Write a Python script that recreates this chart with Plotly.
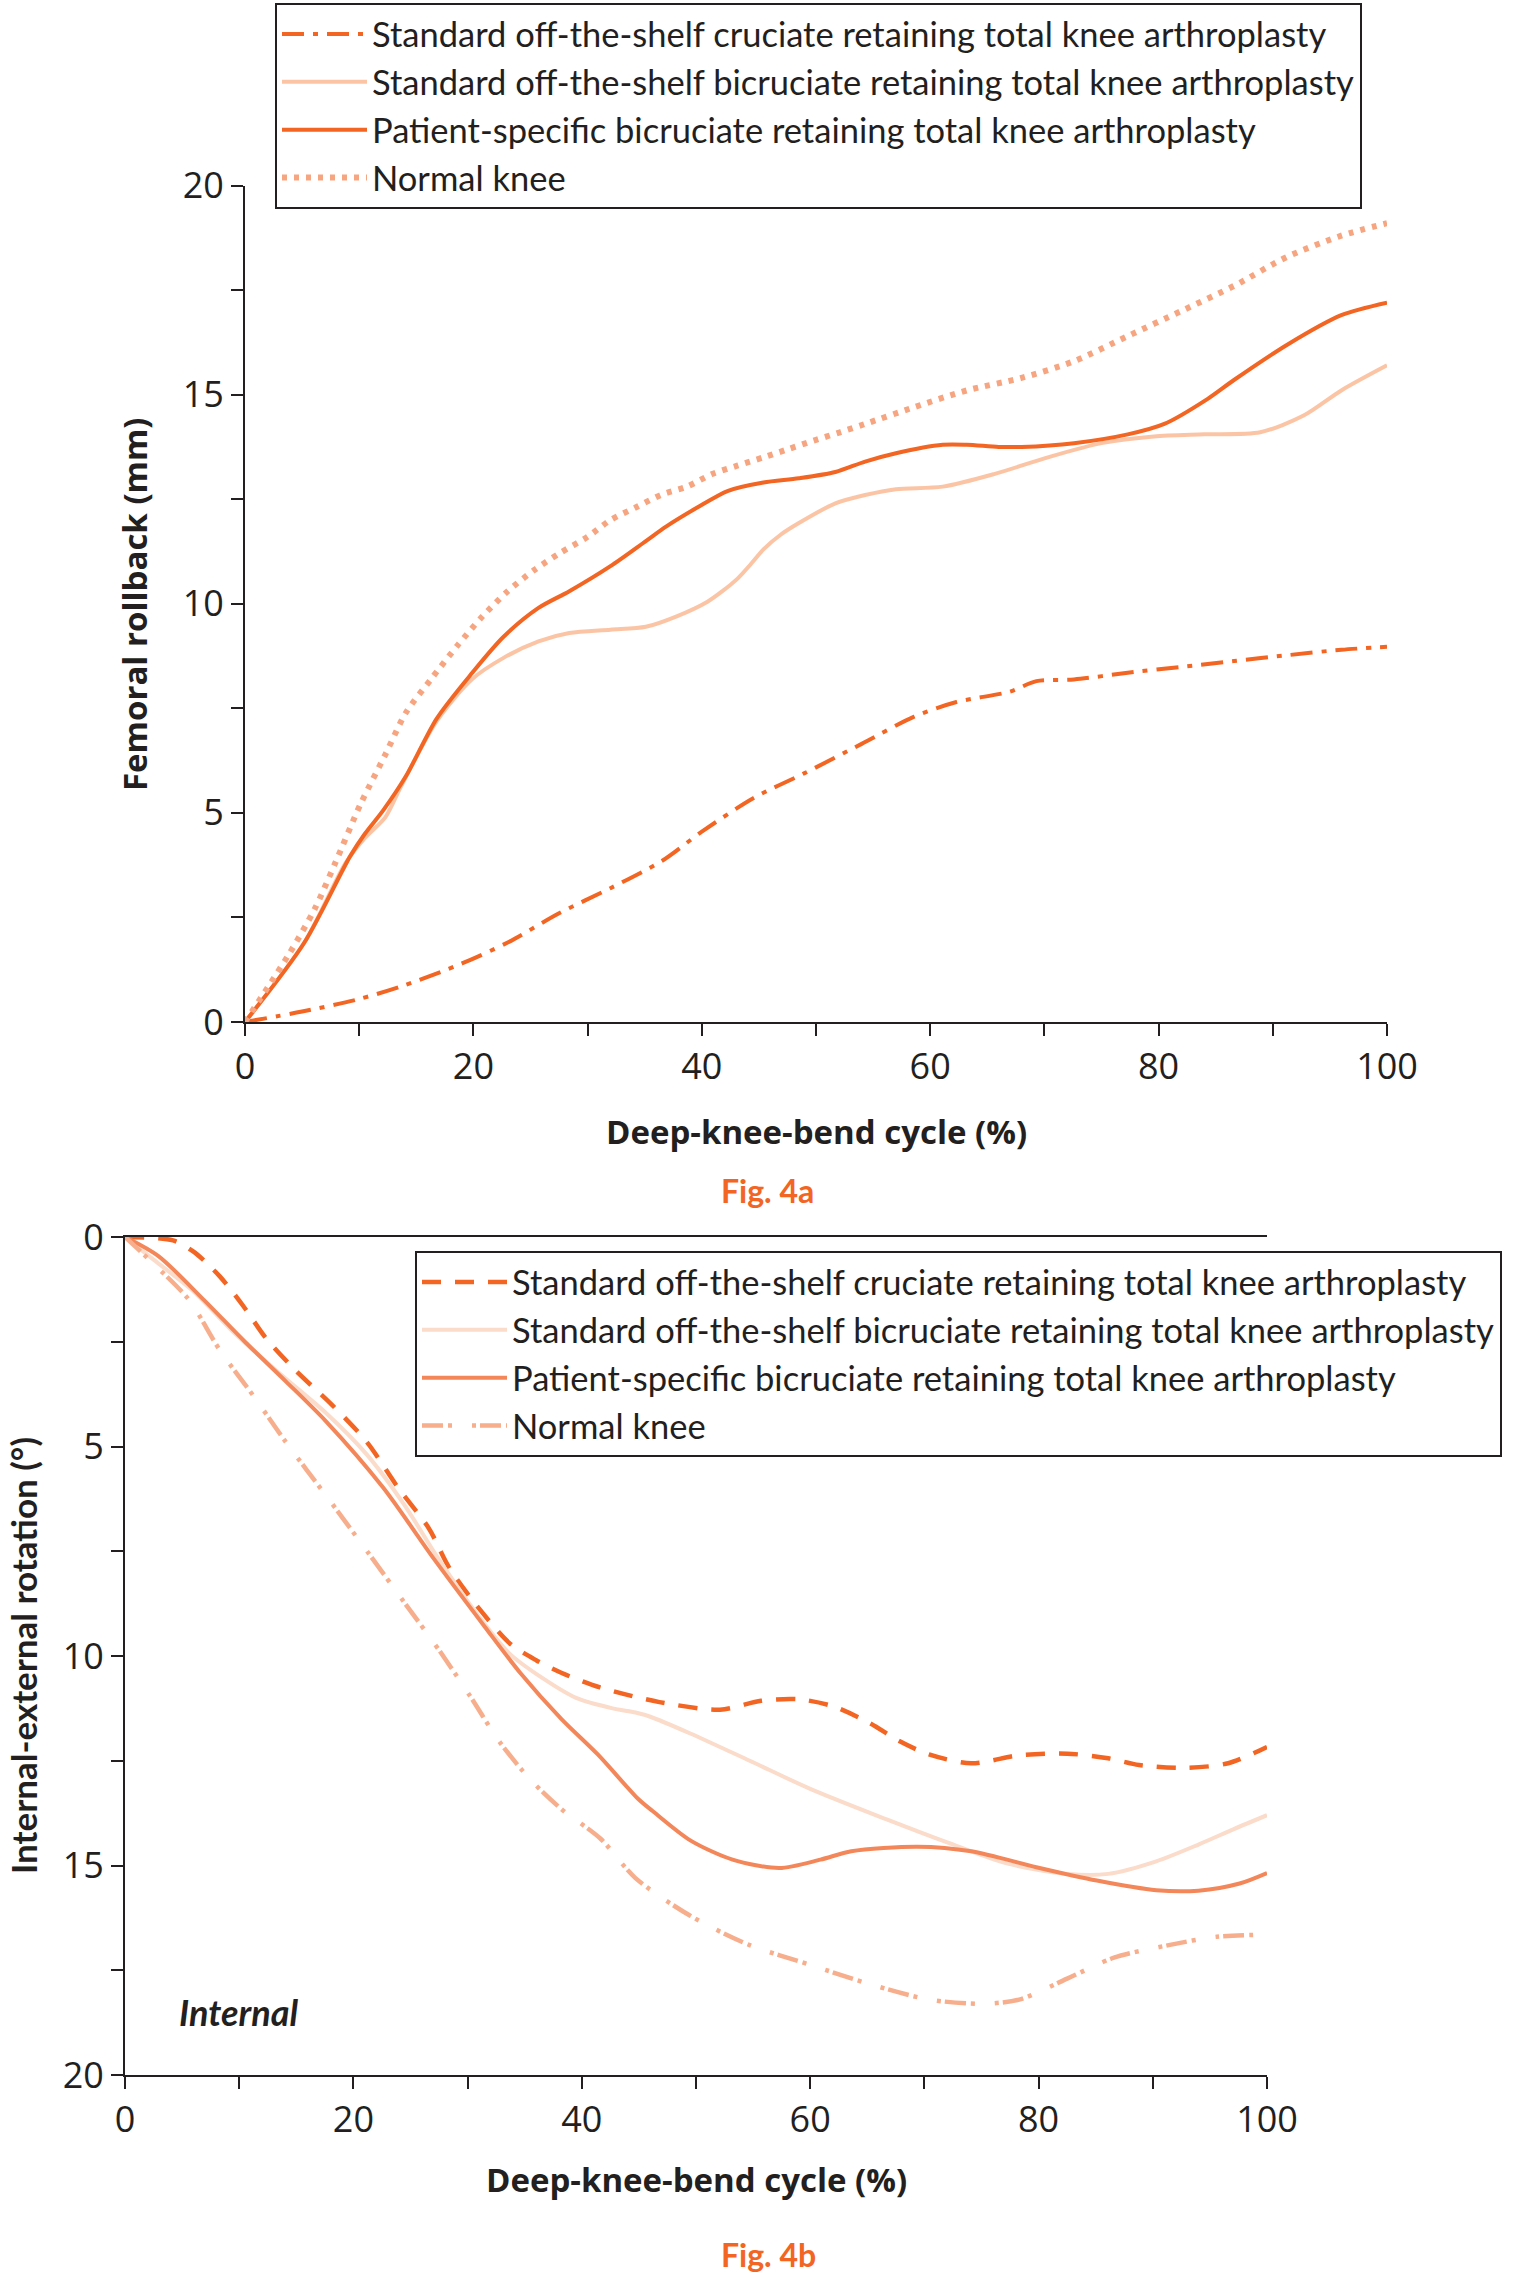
import plotly.graph_objects as go

W, H = 1538, 2274

# ---------------- Fig. 4a : femoral rollback (mm) ----------------
cr_a_x = [0, 5, 10, 14, 19, 23, 27.5, 32, 36.5, 40, 44.5, 49, 54, 58.6, 62.3, 67, 69.3, 72.6, 77.3, 82, 86.6, 91.3, 96, 100]
cr_a_y = [0, 0.25, 0.55, 0.88, 1.4, 1.9, 2.6, 3.2, 3.85, 4.55, 5.35, 5.95, 6.65, 7.3, 7.65, 7.9, 8.15, 8.19, 8.35, 8.49, 8.63, 8.77, 8.9, 8.97]

bcr_a_x = [0, 5.2, 8.8, 10.5, 12.3, 13.6, 16.8, 19.9, 22.6, 25.7, 28.4, 32, 35.1, 37.8, 40.5, 41.8, 43.2, 44.3, 45.4, 46.9, 48.5, 51.7, 54.3, 57, 61.1, 65.6, 70.3, 75, 79.6, 84, 88.9, 92.7, 96, 100]
bcr_a_y = [0, 1.9, 3.8, 4.4, 4.9, 5.6, 7.2, 8.2, 8.7, 9.1, 9.3, 9.38, 9.45, 9.7, 10.05, 10.3, 10.62, 10.95, 11.3, 11.65, 11.93, 12.4, 12.6, 12.74, 12.8, 13.1, 13.5, 13.84, 14.0, 14.05, 14.1, 14.5, 15.1, 15.7]

ps_a_x = [0, 5.2, 9.2, 10.5, 12.1, 14.1, 16.8, 19.9, 22.6, 25.7, 28.4, 32, 35.1, 36.9, 39.6, 42.3, 45.4, 48.5, 51.7, 54.3, 57, 61.1, 63.2, 66, 68, 72.6, 77.3, 80.5, 84.3, 86.6, 91.3, 96, 100]
ps_a_y = [0, 1.9, 3.96, 4.5, 5.06, 5.88, 7.26, 8.35, 9.2, 9.9, 10.3, 10.9, 11.5, 11.85, 12.3, 12.7, 12.9, 13.0, 13.15, 13.4, 13.6, 13.8, 13.8, 13.75, 13.75, 13.84, 14.05, 14.3, 14.9, 15.35, 16.2, 16.9, 17.2]

nk_a_x = [0, 3.8, 6.1, 7.9, 10.1, 12.3, 14.1, 16.3, 18.6, 20.8, 23, 25.3, 27.5, 30, 32, 34.2, 36.4, 38.7, 40.9, 43.1, 45.4, 47.6, 49.8, 52.1, 54.3, 58.6, 63.2, 68, 72.6, 77.3, 82, 86.6, 91.3, 96, 100]
nk_a_y = [0, 1.6, 2.7, 3.8, 5.2, 6.4, 7.4, 8.2, 9.0, 9.7, 10.3, 10.8, 11.2, 11.6, 12.0, 12.3, 12.6, 12.8, 13.1, 13.3, 13.5, 13.7, 13.9, 14.1, 14.3, 14.7, 15.1, 15.4, 15.8, 16.4, 17.0, 17.6, 18.3, 18.8, 19.1]

# ---------------- Fig. 4b : internal-external rotation (deg) ----------------
cr_b_x = [0, 4.2, 6, 8.3, 10.5, 12.3, 15, 18.1, 21.2, 23.9, 26.6, 28.4, 31.1, 33.7, 36, 38.2, 41.6, 46.8, 52.1, 55.7, 58.9, 62, 65.2, 67.8, 70.4, 74.1, 78.3, 82.5, 86.1, 88.8, 92.9, 96.6, 100]
cr_b_y = [0, 0.08, 0.35, 0.94, 1.7, 2.4, 3.2, 4.0, 4.9, 5.98, 6.95, 7.9, 8.9, 9.7, 10.1, 10.4, 10.75, 11.1, 11.28, 11.07, 11.03, 11.2, 11.6, 12.03, 12.35, 12.56, 12.37, 12.33, 12.44, 12.6, 12.67, 12.56, 12.17]

bcr_b_x = [0, 2.5, 6, 9.6, 13.6, 17.6, 21.2, 24.4, 27.5, 31.1, 33.7, 36.4, 39.5, 42.7, 44.7, 46, 49.5, 54.7, 60, 66.7, 72, 77.2, 82.5, 86.1, 90.3, 94, 97.1, 100]
bcr_b_y = [0, 0.54, 1.3, 2.3, 3.27, 4.2, 5.2, 6.37, 7.7, 9.1, 9.95, 10.5, 11.0, 11.25, 11.35, 11.45, 11.85, 12.5, 13.17, 13.9, 14.45, 14.95, 15.2, 15.2, 14.9, 14.5, 14.13, 13.8]

ps_b_x = [0, 2.9, 6.9, 10.5, 14.1, 17.6, 22.6, 27.1, 31.5, 34.6, 38.2, 41.4, 44.9, 46.2, 49.5, 53.2, 57.3, 60.9, 63.6, 69.4, 74.1, 79.8, 85.1, 90.3, 94, 97.6, 100]
ps_b_y = [0, 0.45, 1.5, 2.5, 3.45, 4.4, 5.98, 7.7, 9.3, 10.4, 11.5, 12.35, 13.4, 13.7, 14.4, 14.86, 15.06, 14.86, 14.66, 14.55, 14.66, 15.04, 15.36, 15.59, 15.6, 15.43, 15.18]

nk_b_x = [0, 2.5, 5.6, 8.3, 11.4, 14.1, 17.6, 21.2, 24.4, 27.5, 30.2, 32.8, 35.5, 38.2, 41.6, 44.7, 49.5, 54.7, 60, 65.2, 70.4, 75.1, 78.3, 82.5, 86.6, 91.4, 95.6, 100]
nk_b_y = [0, 0.64, 1.5, 2.7, 3.85, 4.9, 6.17, 7.5, 8.7, 9.86, 10.95, 12.05, 12.95, 13.65, 14.35, 15.3, 16.2, 16.9, 17.37, 17.83, 18.2, 18.3, 18.2, 17.7, 17.2, 16.9, 16.7, 16.65]

names = [
    "Standard off-the-shelf cruciate retaining total knee arthroplasty",
    "Standard off-the-shelf bicruciate retaining total knee arthroplasty",
    "Patient-specific bicruciate retaining total knee arthroplasty",
    "Normal knee",
]

x_ticks = [0, 20, 40, 60, 80, 100]
y_ticks = [0, 5, 10, 15, 20]

INK = "#231F20"
ORANGE = "#F26522"

fig = go.Figure()

def add(x, y, name, color, width, dash, xa, ya, legend, grp):
    fig.add_trace(go.Scatter(
        x=x, y=y, name=name, mode="lines",
        line=dict(color=color, width=width, dash=dash, shape="spline", smoothing=0.8),
        xaxis=xa, yaxis=ya, legend=legend, legendgroup=grp, hoverinfo="skip"))

add(cr_a_x, cr_a_y, names[0], ORANGE, 4, "22px,9px,5px,9px", "x", "y", "legend", "a1")
add(bcr_a_x, bcr_a_y, names[1], "#FBC5A5", 4, "solid", "x", "y", "legend", "a2")
add(ps_a_x, ps_a_y, names[2], ORANGE, 4, "solid", "x", "y", "legend", "a3")
add(nk_a_x, nk_a_y, names[3], "#F6A580", 6, "5px,7px", "x", "y", "legend", "a4")

add(cr_b_x, cr_b_y, names[0], ORANGE, 4.5, "19px,14px", "x2", "y2", "legend2", "b1")
add(bcr_b_x, bcr_b_y, names[1], "#FBDBC9", 4, "solid", "x2", "y2", "legend2", "b2")
add(ps_b_x, ps_b_y, names[2], "#F3875A", 4, "solid", "x2", "y2", "legend2", "b3")
add(nk_b_x, nk_b_y, names[3], "#F7AE8C", 4.5, "21px,5px,4px,20px,4px,4px", "x2", "y2", "legend2", "b4")

tickfont = dict(family="Open Sans", size=36, color=INK)

def xax(domain, anchor, mirror):
    return dict(domain=domain, anchor=anchor, range=[0, 100], tickvals=x_ticks,
                showline=True, linecolor=INK, linewidth=2, mirror=mirror,
                ticks="outside", ticklen=12, tickwidth=2, tickcolor=INK,
                minor=dict(dtick=10, tick0=0, ticks="outside", ticklen=12, tickwidth=2, tickcolor=INK, showgrid=False),
                showgrid=False, zeroline=False, tickfont=tickfont, fixedrange=True, automargin=False)

def yax(domain, anchor, rng):
    return dict(domain=domain, anchor=anchor, range=rng, tickvals=y_ticks,
                showline=True, linecolor=INK, linewidth=2,
                ticks="outside", ticklen=12, tickwidth=2, tickcolor=INK,
                minor=dict(dtick=2.5, tick0=0, ticks="outside", ticklen=12, tickwidth=2, tickcolor=INK, showgrid=False),
                showgrid=False, zeroline=False, tickfont=tickfont, fixedrange=True, automargin=False)

legfont = dict(family="Lato", size=34.5, color=INK)

fig.update_layout(
    width=W, height=H, margin=dict(l=0, r=0, t=0, b=0, autoexpand=False),
    paper_bgcolor="white", plot_bgcolor="white",
    xaxis=xax([245 / W, 1387 / W], "y", False),
    yaxis=yax([1 - 1022 / H, 1 - 185.5 / H], "x", [0, 20]),
    xaxis2=xax([125 / W, 1267 / W], "y2", True),
    yaxis2=yax([1 - 2075 / H, 1 - 1237 / H], "x2", [20, 0]),
    legend=dict(x=275 / W, y=1 - 3 / H, xanchor="left", yanchor="top",
                bordercolor=INK, borderwidth=2, bgcolor="white", font=legfont,
                traceorder="grouped", tracegroupgap=0, itemwidth=85),
    legend2=dict(x=415 / W, y=1 - 1251 / H, xanchor="left", yanchor="top",
                 bordercolor=INK, borderwidth=2, bgcolor="white", font=legfont,
                 traceorder="grouped", tracegroupgap=0, itemwidth=85),
    showlegend=True,
)

title_font = dict(family="Open Sans", size=33, color=INK, weight="bold")

def ann(text, x, y, font, angle=0, xanchor="center", yanchor="middle"):
    fig.add_annotation(text=text, x=x / W, y=1 - y / H, xref="paper", yref="paper",
                       showarrow=False, font=font, textangle=angle,
                       xanchor=xanchor, yanchor=yanchor)

ann("Deep-knee-bend cycle (%)", 816, 1131, title_font)
ann("Femoral rollback (mm)", 135, 604, title_font, angle=-90)
ann("Fig. 4a", 767, 1190, dict(family="Lato", size=32, color=ORANGE, weight="bold"))

ann("Deep-knee-bend cycle (%)", 696, 2179, title_font)
ann("Internal-external rotation (°)", 23, 1656, dict(family="Lato", size=35, color=INK, weight="bold"), angle=-90)
ann("Internal", 177, 2012, dict(family="Lato", size=36, color=INK, weight="bold", style="italic"), xanchor="left")
ann("Fig. 4b", 768, 2254, dict(family="Lato", size=32, color=ORANGE, weight="bold"))

fig.write_html("out.html")
